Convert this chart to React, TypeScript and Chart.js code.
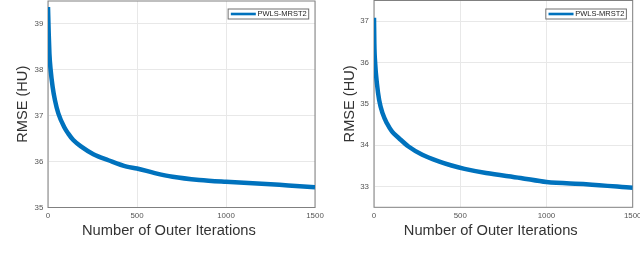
import React, { useEffect, useRef } from 'react';
import { Chart, registerables } from 'chart.js';

Chart.register(...registerables);

const seriesLabel = 'PWLS-MRST2';
const xTitle = 'Number of Outer Iterations';
const yTitle = 'RMSE (HU)';
const xTicks = [0, 500, 1000, 1500];

const leftIterations = [0, 4, 8, 15, 26, 39, 58, 90, 114, 142, 189, 255, 339, 442, 500, 600, 700, 850, 1000, 1200, 1350, 1500];
const leftRmse = [39.37, 38.79, 38.35, 37.99, 37.63, 37.34, 37.05, 36.76, 36.61, 36.47, 36.32, 36.16, 36.03, 35.89, 35.85, 35.75, 35.67, 35.6, 35.56, 35.52, 35.48, 35.44];
const leftYTicks = [35, 36, 37, 38, 39];

const rightIterations = [0, 2, 7, 17, 30, 50, 75, 105, 145, 200, 280, 375, 450, 525, 650, 850, 1000, 1230, 1500];
const rightRmse = [37.08, 36.45, 35.97, 35.49, 35.09, 34.77, 34.53, 34.33, 34.17, 33.97, 33.77, 33.61, 33.51, 33.43, 33.33, 33.21, 33.11, 33.06, 32.97];
const rightYTicks = [33, 34, 35, 36, 37];

const FONT = '"Liberation Sans", Arial, Helvetica, sans-serif';

const framePlugin = {
  id: 'matlabFrame',
  beforeDatasetsDraw(chart: any) {
    const { ctx, chartArea: a } = chart;
    ctx.save();
    ctx.strokeStyle = '#808080';
    ctx.lineWidth = 1;
    ctx.strokeRect(a.left, a.top, a.right - a.left, a.bottom - a.top);
    ctx.restore();
  },
  afterDraw(chart: any, _args: any, opts: any) {
    const { ctx, chartArea: a } = chart;
    ctx.save();
    // x-axis title
    ctx.fillStyle = '#333333';
    ctx.font = `14.7px ${FONT}`;
    ctx.textAlign = 'center';
    ctx.textBaseline = 'middle';
    ctx.fillText(xTitle, (a.left + a.right) / 2 + opts.xTitleShift, opts.xTitleY);
    // legend
    const label = chart.data.datasets[0].label;
    ctx.font = `7.5px ${FONT}`;
    const tw = ctx.measureText(label).width;
    const padL = 2.7, lineLen = 25, gap = 1.7, padR = 2;
    const w = padL + lineLen + gap + tw + padR;
    const h = 10;
    const right = a.right - opts.legendRight;
    const x0 = right - w;
    const y0 = 9;
    ctx.fillStyle = '#ffffff';
    ctx.fillRect(x0, y0, w, h);
    ctx.strokeStyle = '#707070';
    ctx.lineWidth = 1;
    ctx.strokeRect(x0, y0, w, h);
    ctx.strokeStyle = '#0072BD';
    ctx.lineWidth = 2.6;
    ctx.beginPath();
    ctx.moveTo(x0 + padL, y0 + h / 2);
    ctx.lineTo(x0 + padL + lineLen, y0 + h / 2);
    ctx.stroke();
    ctx.fillStyle = '#222222';
    ctx.textAlign = 'left';
    ctx.textBaseline = 'middle';
    ctx.fillText(label, x0 + padL + lineLen + gap, y0 + h / 2 + 0.3);
    ctx.restore();
  },
};

type PanelProps = {
  iterations: number[];
  values: number[];
  yMin: number;
  yMax: number;
  yTicks: number[];
  left: number;
  width: number;
  yWidth: number;
  yTitlePad: number;
  yTickPad: number;
  pad: { left: number; right: number; top: number; bottom: number };
};

function Panel(p: PanelProps) {
  const ref = useRef<HTMLCanvasElement>(null);
  useEffect(() => {
    const chart = new Chart(ref.current as HTMLCanvasElement, {
      type: 'line',
      data: {
        datasets: [
          {
            label: seriesLabel,
            data: p.iterations.map((x, i) => ({ x, y: p.values[i] })),
            borderColor: '#0072BD',
            backgroundColor: '#0072BD',
            borderWidth: 4.5,
            pointRadius: 0,
            cubicInterpolationMode: 'monotone',
            fill: false,
          } as any,
        ],
      },
      options: {
        responsive: false,
        animation: false,
        events: [],
        layout: { padding: p.pad },
        plugins: {
          legend: { display: false },
          tooltip: { enabled: false },
          matlabFrame: { xTitleShift: -12.6, xTitleY: 231, legendRight: 6.3 },
        } as any,
        scales: {
          x: {
            type: 'linear',
            min: 0,
            max: 1500,
            afterBuildTicks: (s: any) => {
              s.ticks = xTicks.map((v) => ({ value: v }));
            },
            afterFit: (s: any) => {
              s.height = 34;
              s.paddingLeft = 0;
              s.paddingRight = 0;
            },
            grid: { color: '#e8e8e8', drawTicks: false, lineWidth: 1 },
            border: { display: false },
            ticks: {
              padding: 3.5,
              color: '#555555',
              font: { family: FONT, size: 7.9 },
              maxRotation: 0,
              autoSkip: false,
              callback: (v: any) => String(v),
            },
          },
          y: {
            type: 'linear',
            min: p.yMin,
            max: p.yMax,
            afterBuildTicks: (s: any) => {
              s.ticks = p.yTicks.map((v) => ({ value: v }));
            },
            afterFit: (s: any) => {
              s.width = p.yWidth;
              s.paddingTop = 0;
              s.paddingBottom = 0;
            },
            grid: { color: '#e8e8e8', drawTicks: false, lineWidth: 1 },
            border: { display: false },
            ticks: {
              padding: p.yTickPad,
              color: '#555555',
              font: { family: FONT, size: 7.9 },
              autoSkip: false,
              callback: (v: any) => String(v),
            },
            title: {
              display: true,
              text: yTitle,
              color: '#333333',
              font: { family: FONT, size: 14.6 },
              padding: { top: p.yTitlePad, bottom: 0 },
            },
          },
        },
      } as any,
      plugins: [framePlugin as any],
    });
    return () => chart.destroy();
  }, []);
  return (
    <canvas
      ref={ref}
      width={p.width}
      height={256}
      style={{ position: 'absolute', left: p.left, top: 0, width: p.width, height: 256 }}
    />
  );
}

export default function App() {
  return (
    <div
      style={{
        position: 'fixed',
        left: 0,
        top: 0,
        width: 640,
        height: 256,
        background: '#ffffff',
        overflow: 'hidden',
      }}
    >
      <Panel
        iterations={leftIterations}
        values={leftRmse}
        yMin={35}
        yMax={39.5}
        yTicks={leftYTicks}
        left={0}
        width={330}
        yWidth={48}
        yTitlePad={14.5}
        yTickPad={4.7}
        pad={{ left: 0, right: 15, top: 1, bottom: 14.5 }}
      />
      <Panel
        iterations={rightIterations}
        values={rightRmse}
        yMin={32.5}
        yMax={37.5}
        yTicks={rightYTicks}
        left={320}
        width={320}
        yWidth={54}
        yTitlePad={21.2}
        yTickPad={5}
        pad={{ left: 0, right: 7.3, top: 0.5, bottom: 14.7 }}
      />
    </div>
  );
}
